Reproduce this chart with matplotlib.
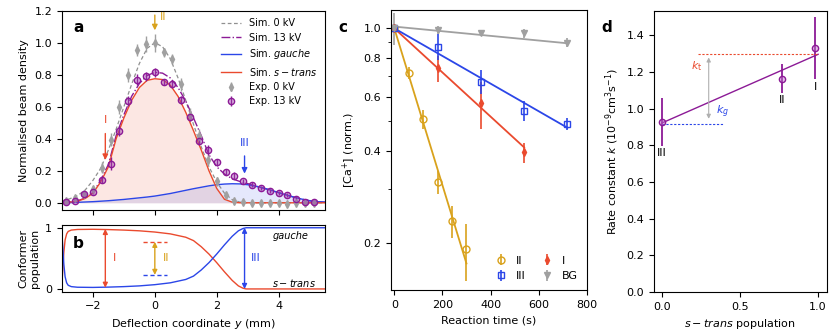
import matplotlib
matplotlib.use('Agg')
import matplotlib.pyplot as plt
from matplotlib.ticker import FixedLocator, NullFormatter

plt.rcParams['font.family'] = ['DejaVu Sans']
plt.rcParams['font.size'] = 8
plt.rcParams['mathtext.fontset'] = 'dejavusans'

C_RED = '#ea4a2e'
C_BLUE = '#2b46e8'
C_GOLD = '#d9a21c'
C_GRAY = '#a0a0a0'
C_PURPLE = '#8c1a96'

# ---------------- Panel a data ----------------
x_sim = [-3.0, -2.75, -2.5, -2.25, -2.0, -1.75, -1.5, -1.25, -1.0, -0.75, -0.5, -0.25,
         0.0, 0.25, 0.5, 0.75, 1.0, 1.25, 1.5, 1.75, 2.0, 2.25, 2.5, 2.75, 3.0, 3.25,
         3.5, 3.75, 4.0, 4.25, 4.5, 4.75, 5.0, 5.25, 5.5]
sim_0kV = [0.012, 0.025, 0.045, 0.08, 0.14, 0.215, 0.33, 0.46, 0.6, 0.74, 0.87, 0.965,
           1.0, 0.975, 0.9, 0.78, 0.64, 0.49, 0.35, 0.225, 0.13, 0.06, 0.02, 0.004, 0.0, 0.0,
           0.0, 0.0, 0.0, 0.0, 0.0, 0.0, 0.0, 0.0, 0.0]
sim_13kV = [0.0, 0.005, 0.012, 0.03, 0.065, 0.14, 0.24, 0.42, 0.55, 0.665, 0.745, 0.795,
            0.815, 0.81, 0.78, 0.72, 0.635, 0.53, 0.42, 0.3, 0.225, 0.18, 0.15, 0.133, 0.12, 0.105,
            0.092, 0.078, 0.063, 0.049, 0.035, 0.023, 0.013, 0.007, 0.004]
sim_gauche = [0.0, 0.001, 0.003, 0.005, 0.007, 0.01, 0.013, 0.017, 0.021, 0.026, 0.031, 0.036,
              0.042, 0.05, 0.058, 0.068, 0.078, 0.088, 0.097, 0.106, 0.113, 0.117, 0.119, 0.118, 0.113, 0.104,
              0.093, 0.079, 0.064, 0.049, 0.035, 0.023, 0.013, 0.007, 0.004]
sim_strans = [0.0, 0.004, 0.01, 0.027, 0.06, 0.13, 0.225, 0.40, 0.53, 0.64, 0.72, 0.765,
              0.775, 0.77, 0.735, 0.665, 0.565, 0.45, 0.33, 0.2, 0.09, 0.022, 0.004, 0.0, 0.0, 0.0,
              0.0, 0.0, 0.0, 0.0, 0.0, 0.0, 0.0, 0.0, 0.0]

x_exp = [-2.857, -2.571, -2.286, -2.0, -1.714, -1.429, -1.143, -0.857, -0.571, -0.286, 0.0,
         0.286, 0.571, 0.857, 1.143, 1.429, 1.714, 2.0, 2.286, 2.571, 2.857, 3.143, 3.429,
         3.714, 4.0, 4.286, 4.571, 4.857, 5.143]
exp_0kV = [0.01, 0.03, 0.055, 0.085, 0.22, 0.395, 0.60, 0.80, 0.955, 0.99, 1.0, 0.94, 0.90,
           0.74, 0.55, 0.42, 0.27, 0.134, 0.05, 0.01, 0.003, 0.0, 0.0, -0.003, 0.0, -0.006,
           0.0, -0.003, 0.0]
err_0kV = [0.01, 0.015, 0.015, 0.02, 0.035, 0.04, 0.045, 0.045, 0.04, 0.05, 0.055, 0.03, 0.03,
           0.04, 0.04, 0.04, 0.035, 0.03, 0.02, 0.015, 0.01, 0.01, 0.01, 0.012, 0.012, 0.012,
           0.015, 0.012, 0.01]
exp_13kV = [0.006, 0.013, 0.055, 0.07, 0.145, 0.245, 0.45, 0.635, 0.77, 0.79, 0.815, 0.755,
            0.745, 0.645, 0.535, 0.384, 0.33, 0.252, 0.193, 0.17, 0.134, 0.112, 0.09, 0.075,
            0.06, 0.047, 0.026, 0.006, 0.005]
err_13kV = [0.01, 0.01, 0.015, 0.015, 0.02, 0.04, 0.03, 0.03, 0.035, 0.03, 0.03, 0.02, 0.025,
            0.025, 0.025, 0.025, 0.03, 0.02, 0.02, 0.02, 0.015, 0.015, 0.012, 0.012, 0.012,
            0.012, 0.012, 0.01, 0.01]

# ---------------- Panel b data ----------------
x_pop = [-3.0, -2.97, -2.94, -2.9, -2.85, -2.8, -2.7, -2.5, -2.0, -1.5, -1.0, -0.5, 0.0, 0.5,
         1.0, 1.25, 1.5, 1.75, 2.0, 2.25, 2.5, 2.7, 2.85, 2.95, 3.5, 5.5]
pop_strans = [0.12, 0.35, 0.6, 0.8, 0.9, 0.94, 0.962, 0.972, 0.975, 0.97, 0.962, 0.95, 0.93,
              0.9, 0.845, 0.79, 0.69, 0.57, 0.43, 0.28, 0.14, 0.05, 0.012, 0.0, 0.0, 0.0]
pop_gauche = [0.88, 0.65, 0.4, 0.2, 0.1, 0.06, 0.038, 0.028, 0.025, 0.03, 0.038, 0.05, 0.07,
              0.1, 0.155, 0.21, 0.31, 0.43, 0.57, 0.72, 0.86, 0.95, 0.988, 1.0, 1.0, 1.0]

# ---------------- Panel c data ----------------
t_II = [0, 60, 120, 180, 240, 300]
ca_II = [1.0, 0.717, 0.507, 0.316, 0.236, 0.191]
err_II = [0.0, 0.033, 0.035, 0.027, 0.028, 0.04]
t_I = [0, 180, 360, 540]
ca_I = [1.0, 0.741, 0.57, 0.395]
err_I = [0.0, 0.07, 0.1, 0.03]
t_III = [0, 180, 360, 540, 720]
ca_III = [1.0, 0.872, 0.671, 0.54, 0.489]
err_III = [0.0, 0.085, 0.06, 0.04, 0.022]
t_BG = [0, 180, 360, 540, 720]
ca_BG = [1.0, 0.987, 0.963, 0.963, 0.898]
err_BG = [0.12, 0.03, 0.02, 0.03, 0.03]
fit_t_II = [0, 300]
fit_II = [1.0, 0.172]
fit_t_I = [0, 540]
fit_I = [1.0, 0.41]
fit_t_III = [0, 720]
fit_III = [1.0, 0.475]
fit_t_BG = [0, 720]
fit_BG = [1.013, 0.894]

# ---------------- Panel d data ----------------
strans_pop = [0.0, 0.772, 0.983]
rate_k = [0.927, 1.164, 1.333]
rate_err = [0.13, 0.08, 0.17]
rate_labels = ['III', 'II', 'I']
fit_pop = [0.0, 1.0]
fit_k = [0.922, 1.297]
k_t = 1.30
k_g = 0.918

W, H = 831, 332
fig = plt.figure(figsize=(W / 100, H / 100), dpi=100)


def add_ax(l, r, t, b):
    return fig.add_axes([l / W, (H - b) / H, (r - l) / W, (b - t) / H])


# ---------- a ----------
ax = add_ax(62, 325, 10.7, 210)
ax.fill_between(x_sim, 0, sim_strans, color=C_RED, alpha=0.13, lw=0)
ax.fill_between(x_sim, 0, sim_gauche, color=C_BLUE, alpha=0.12, lw=0)
l0, = ax.plot(x_sim, sim_0kV, color='#909090', lw=0.9, dashes=(3, 2), label='Sim. 0 kV')
l13, = ax.plot(x_sim, sim_13kV, color=C_PURPLE, lw=1.0, ls='-.', label='Sim. 13 kV')
lg, = ax.plot(x_sim, sim_gauche, color=C_BLUE, lw=1.0, label='Sim. $gauche$')
ls_, = ax.plot(x_sim, sim_strans, color=C_RED, lw=1.0, label='Sim. $s-trans$')
e0 = ax.errorbar(x_exp, exp_0kV, yerr=err_0kV, fmt='d', color=C_GRAY, ms=4, elinewidth=1,
                 capsize=0, label='Exp. 0 kV')
e13 = ax.errorbar(x_exp, exp_13kV, yerr=err_13kV, fmt='o', color=C_PURPLE, ms=4.5,
                  mfc=(0.62, 0.25, 0.68, 0.4), mec=C_PURPLE, mew=1, elinewidth=1, capsize=0,
                  label='Exp. 13 kV')
ax.set_xlim(-3, 5.5)
ax.set_ylim(-0.045, 1.2)
ax.set_xticks([-2, 0, 2, 4])
ax.set_xticklabels([])
ax.set_yticks([0.0, 0.2, 0.4, 0.6, 0.8, 1.0, 1.2])
ax.set_ylabel('Normalised beam density')
ax.legend(handles=[l0, l13, lg, ls_, e0, e13], loc='upper right', frameon=False, fontsize=7,
          labelspacing=0.45, borderaxespad=0.4, handlelength=2.0)
ax.annotate('', xy=(-1.6, 0.25), xytext=(-1.6, 0.45),
            arrowprops=dict(arrowstyle='-|>', color=C_RED, lw=1, mutation_scale=8))
ax.text(-1.6, 0.52, 'I', color=C_RED, ha='center', va='center')
ax.annotate('', xy=(0.0, 1.06), xytext=(0.0, 1.19),
            arrowprops=dict(arrowstyle='-|>', color=C_GOLD, lw=1, mutation_scale=8))
ax.text(0.15, 1.16, 'II', color=C_GOLD, ha='left', va='center')
ax.annotate('', xy=(2.9, 0.165), xytext=(2.9, 0.31),
            arrowprops=dict(arrowstyle='-|>', color=C_BLUE, lw=1, mutation_scale=8))
ax.text(2.9, 0.375, 'III', color=C_BLUE, ha='center', va='center')

# ---------- b ----------
bx = add_ax(62, 325, 225, 291.7)
bx.plot(x_pop, pop_strans, color=C_RED, lw=1.0)
bx.plot(x_pop, pop_gauche, color=C_BLUE, lw=1.0)
bx.set_xlim(-3, 5.5)
bx.set_ylim(-0.045, 1.045)
bx.set_xticks([-2, 0, 2, 4])
bx.set_yticks([0, 1])
bx.set_xlabel('Deflection coordinate $y$ (mm)')
bx.set_ylabel('Conformer\npopulation')
bx.annotate('', xy=(-1.6, 0.02), xytext=(-1.6, 0.98),
            arrowprops=dict(arrowstyle='<|-|>', color=C_RED, lw=1, mutation_scale=7,
                            shrinkA=0, shrinkB=0))
bx.text(-1.3, 0.5, 'I', color=C_RED, ha='center', va='center')
bx.plot([-0.38, 0.38], [0.77, 0.77], color=C_RED, lw=1.0, dashes=(3, 2))
bx.plot([-0.38, 0.38], [0.23, 0.23], color=C_BLUE, lw=1.0, dashes=(3, 2))
bx.annotate('', xy=(0.0, 0.23), xytext=(0.0, 0.77),
            arrowprops=dict(arrowstyle='<|-|>', color=C_GOLD, lw=1, mutation_scale=7,
                            shrinkA=0, shrinkB=0))
bx.text(0.35, 0.5, 'II', color=C_GOLD, ha='center', va='center')
bx.annotate('', xy=(2.9, 0.0), xytext=(2.9, 1.0),
            arrowprops=dict(arrowstyle='<|-|>', color=C_BLUE, lw=1, mutation_scale=7,
                            shrinkA=0, shrinkB=0))
bx.text(3.25, 0.5, 'III', color=C_BLUE, ha='center', va='center')
bx.text(3.8, 0.86, 'gauche', style='italic', fontsize=7, ha='left', va='center')
bx.text(3.8, 0.09, '$s-trans$', fontsize=7, ha='left', va='center')

# ---------- c ----------
cx = add_ax(390.7, 586.7, 10, 290)
cx.set_yscale('log')
cx.plot(fit_t_II, fit_II, color=C_GOLD, lw=1.3)
cx.plot(fit_t_I, fit_I, color=C_RED, lw=1.3)
cx.plot(fit_t_III, fit_III, color=C_BLUE, lw=1.3)
cx.plot(fit_t_BG, fit_BG, color=C_GRAY, lw=1.3)
hII = cx.errorbar(t_II, ca_II, yerr=err_II, fmt='o', color=C_GOLD, mfc='none', ms=5, mew=1,
                  elinewidth=1.2, capsize=0, label='II')
hI = cx.errorbar(t_I, ca_I, yerr=err_I, fmt='d', color=C_RED, ms=4, elinewidth=1.2, capsize=0,
                 label='I')
hIII = cx.errorbar(t_III, ca_III, yerr=err_III, fmt='s', color=C_BLUE, mfc='none', ms=4.5, mew=1,
                   elinewidth=1.2, capsize=0, label='III')
hBG = cx.errorbar(t_BG, ca_BG, yerr=err_BG, fmt='v', color=C_GRAY, ms=4.5, elinewidth=1.2,
                  capsize=0, label='BG')
cx.set_xlim(-15, 800)
cx.set_ylim(0.141, 1.147)
cx.yaxis.set_major_locator(FixedLocator([0.2, 0.4, 0.6, 0.8, 1.0]))
cx.set_yticklabels(['0.2', '0.4', '0.6', '0.8', '1.0'])
cx.yaxis.set_minor_locator(FixedLocator([0.3, 0.5, 0.7, 0.9]))
cx.yaxis.set_minor_formatter(NullFormatter())
cx.set_xticks([0, 200, 400, 600, 800])
cx.set_xlabel('Reaction time (s)')
cx.set_ylabel('[Ca$^{+}$] (norm.)')
cx.legend(handles=[hII, hIII, hI, hBG], loc='lower right', ncol=2, frameon=False,
          handlelength=1.0, columnspacing=1.5, fontsize=8, borderaxespad=0.4)

# ---------- d ----------
dx = add_ax(654, 826.7, 10.7, 292)
dx.plot(fit_pop, fit_k, color=C_PURPLE, lw=1.0)
dx.errorbar(strans_pop, rate_k, yerr=rate_err, fmt='o', color=C_PURPLE, ms=4.5,
            mfc=(0.75, 0.45, 0.8, 0.45), mec=C_PURPLE, mew=1, elinewidth=1.3, capsize=0)
dx.plot([0.23, 1.0], [k_t, k_t], color=C_RED, lw=0.8, dashes=(2, 1.5))
dx.plot([0.0, 0.4], [k_g, k_g], color=C_BLUE, lw=0.8, dashes=(2, 1.5))
dx.annotate('', xy=(0.3, 0.945), xytext=(0.3, 1.28),
            arrowprops=dict(arrowstyle='<|-|>', color='#b0b0b0', lw=0.8, mutation_scale=6,
                            shrinkA=0, shrinkB=0))
dx.text(0.225, 1.235, '$k_\\mathrm{t}$', color=C_RED, ha='center', va='center')
dx.text(0.39, 0.985, '$k_g$', color=C_BLUE, ha='center', va='center')
dx.text(strans_pop[0], 0.76, rate_labels[0], ha='center', va='center')
dx.text(strans_pop[1], 1.05, rate_labels[1], ha='center', va='center')
dx.text(strans_pop[2], 1.12, rate_labels[2], ha='center', va='center')
dx.set_xlim(-0.05, 1.055)
dx.set_ylim(0.0, 1.535)
dx.set_xticks([0.0, 0.5, 1.0])
dx.set_yticks([0.0, 0.2, 0.4, 0.6, 0.8, 1.0, 1.2, 1.4])
dx.set_xlabel('$s-trans$ population')
dx.set_ylabel('Rate constant $k$ ($10^{-9}$cm$^3$s$^{-1}$)')

# panel labels
fig.text(73 / W, 1 - 28 / H, 'a', fontsize=11, fontweight='bold', va='center', ha='left')
fig.text(73 / W, 1 - 243 / H, 'b', fontsize=11, fontweight='bold', va='center', ha='left')
fig.text(338 / W, 1 - 27 / H, 'c', fontsize=11, fontweight='bold', va='center', ha='left')
fig.text(601 / W, 1 - 27 / H, 'd', fontsize=11, fontweight='bold', va='center', ha='left')

fig.savefig('out.png', dpi=100)
